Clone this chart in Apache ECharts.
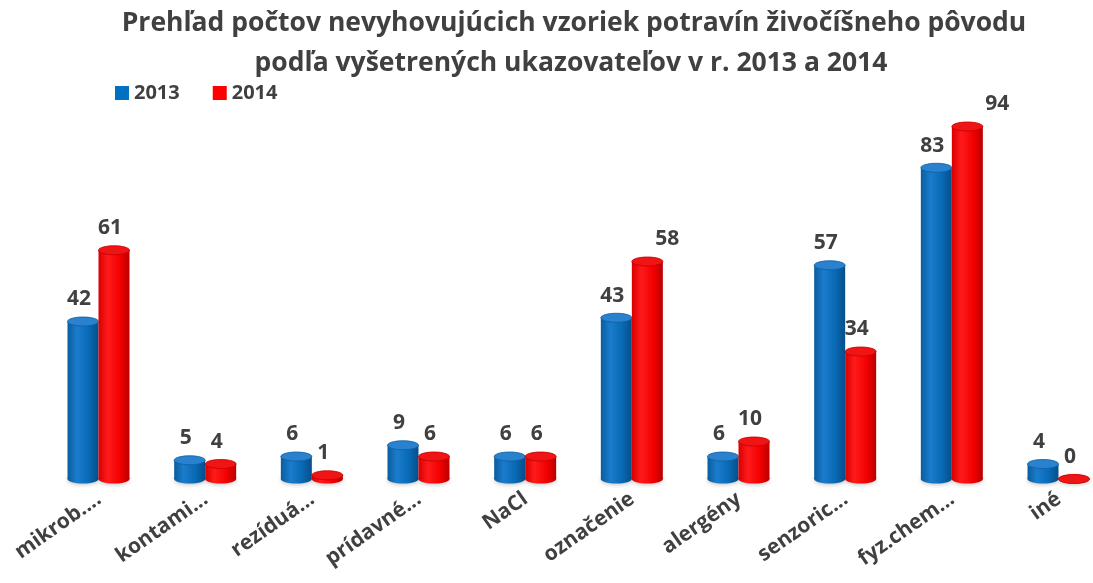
<!DOCTYPE html>
<html>
<head>
<meta charset="utf-8">
<script src="https://cdn.jsdelivr.net/npm/echarts@6/dist/echarts.min.js"></script>
<style>
  html, body { margin: 0; padding: 0; background: #ffffff; }
  #chart { width: 1093px; height: 583px; }
</style>
</head>
<body>
<div id="chart"></div>
<script>
// Categories and counts of non-compliant samples per indicator
const categories = ['mikrob....', 'kontami...', 'rezíduá...', 'prídavné...', 'NaCl', 'označenie', 'alergény', 'senzoric...', 'fyz.chem...', 'iné'];
const values2013 = [42, 5, 6, 9, 6, 43, 6, 57, 83, 4];
const values2014 = [61, 4, 1, 6, 6, 58, 10, 34, 94, 0];
const seriesNames = ['2013', '2014'];

const FONT = '"Open Sans", "DejaVu Sans", sans-serif';
const TEXT = '#404040';

// label nudges (px) for a few crowded value labels of the 2014 series
const labelShift2014 = { 5: 24, 8: 34 };

const palettes = {
  blue: {
    base: '#0070C0',
    body: [[0, '#0a5d9e'], [0.3, '#1a7ccb'], [0.65, '#0a6cb8'], [1, '#054f8a']],
    top: '#2a82cf',
    rim: '#0b5f9f'
  },
  red: {
    base: '#FF0000',
    body: [[0, '#d80000'], [0.3, '#ff1a1a'], [0.7, '#f20000'], [1, '#b80000']],
    top: '#f01414',
    rim: '#c40000'
  }
};

function cylinder(pal, shift, labelShift) {
  return function (params, api) {
    const idx = api.value(0);
    const v = api.value(1);
    const top = api.coord([idx, v]);
    const base = api.coord([idx, 0]);
    const w = 31, rx = w / 2, ry = 4.5;
    const cx = top[0] + shift;
    const grad = new echarts.graphic.LinearGradient(0, 0, 1, 0,
      pal.body.map(s => ({ offset: s[0], color: s[1] })));
    const extra = (labelShift && labelShift[idx]) || 0;
    return {
      type: 'group',
      children: [
        { type: 'ellipse', shape: { cx: cx, cy: base[1], rx: rx, ry: ry },
          style: { fill: grad, shadowBlur: 4, shadowColor: 'rgba(0,0,0,0.25)', shadowOffsetY: 1 } },
        { type: 'rect', shape: { x: cx - rx, y: top[1], width: w, height: Math.max(0, base[1] - top[1]) },
          style: { fill: grad } },
        { type: 'ellipse', shape: { cx: cx, cy: top[1], rx: rx, ry: ry },
          style: { fill: pal.top, stroke: pal.rim, lineWidth: 0.8 } },
        { type: 'text',
          style: { text: String(v), x: cx - 4 + extra, y: top[1] - 22,
                   align: 'center', verticalAlign: 'middle',
                   font: 'bold 21px ' + FONT, fill: TEXT } }
      ]
    };
  };
}

const chart = echarts.init(document.getElementById('chart'), null, { renderer: 'canvas' });

chart.setOption({
  backgroundColor: '#ffffff',
  animation: false,
  graphic: [
    { type: 'text', x: 574, y: 23,
      style: { text: 'Prehľad počtov nevyhovujúcich vzoriek potravín živočíšneho pôvodu',
               align: 'center', verticalAlign: 'middle', font: 'bold 26.5px ' + FONT, fill: TEXT } },
    { type: 'text', x: 571, y: 63,
      style: { text: 'podľa vyšetrených ukazovateľov v r. 2013 a 2014',
               align: 'center', verticalAlign: 'middle', font: 'bold 26.5px ' + FONT, fill: TEXT } }
  ],
  legend: {
    left: 110, top: 78,
    icon: 'rect', itemWidth: 14, itemHeight: 14, itemGap: 33,
    textStyle: { fontFamily: FONT, fontWeight: 'bold', fontSize: 20, color: TEXT },
    data: seriesNames
  },
  grid: { left: 99, right: 34, top: 104, bottom: 104, containLabel: false },
  xAxis: {
    type: 'category',
    data: categories,
    boundaryGap: false,
    axisLine: { show: false },
    axisTick: { show: false },
    axisLabel: { rotate: 35, margin: 18, interval: 0,
                 fontFamily: FONT, fontWeight: 'bold', fontSize: 21, color: TEXT }
  },
  yAxis: {
    type: 'value', min: 0, max: 100, interval: 20,
    show: false, splitLine: { show: false }
  },
  series: [
    { name: seriesNames[0], type: 'custom', z: 2,
      itemStyle: { color: palettes.blue.base },
      encode: { x: 0, y: 1 },
      data: values2013.map((v, i) => [i, v]),
      renderItem: cylinder(palettes.blue, -16, null) },
    { name: seriesNames[1], type: 'custom', z: 3,
      itemStyle: { color: palettes.red.base },
      encode: { x: 0, y: 1 },
      data: values2014.map((v, i) => [i, v]),
      renderItem: cylinder(palettes.red, 15, labelShift2014) }
  ]
});
</script>
</body>
</html>
